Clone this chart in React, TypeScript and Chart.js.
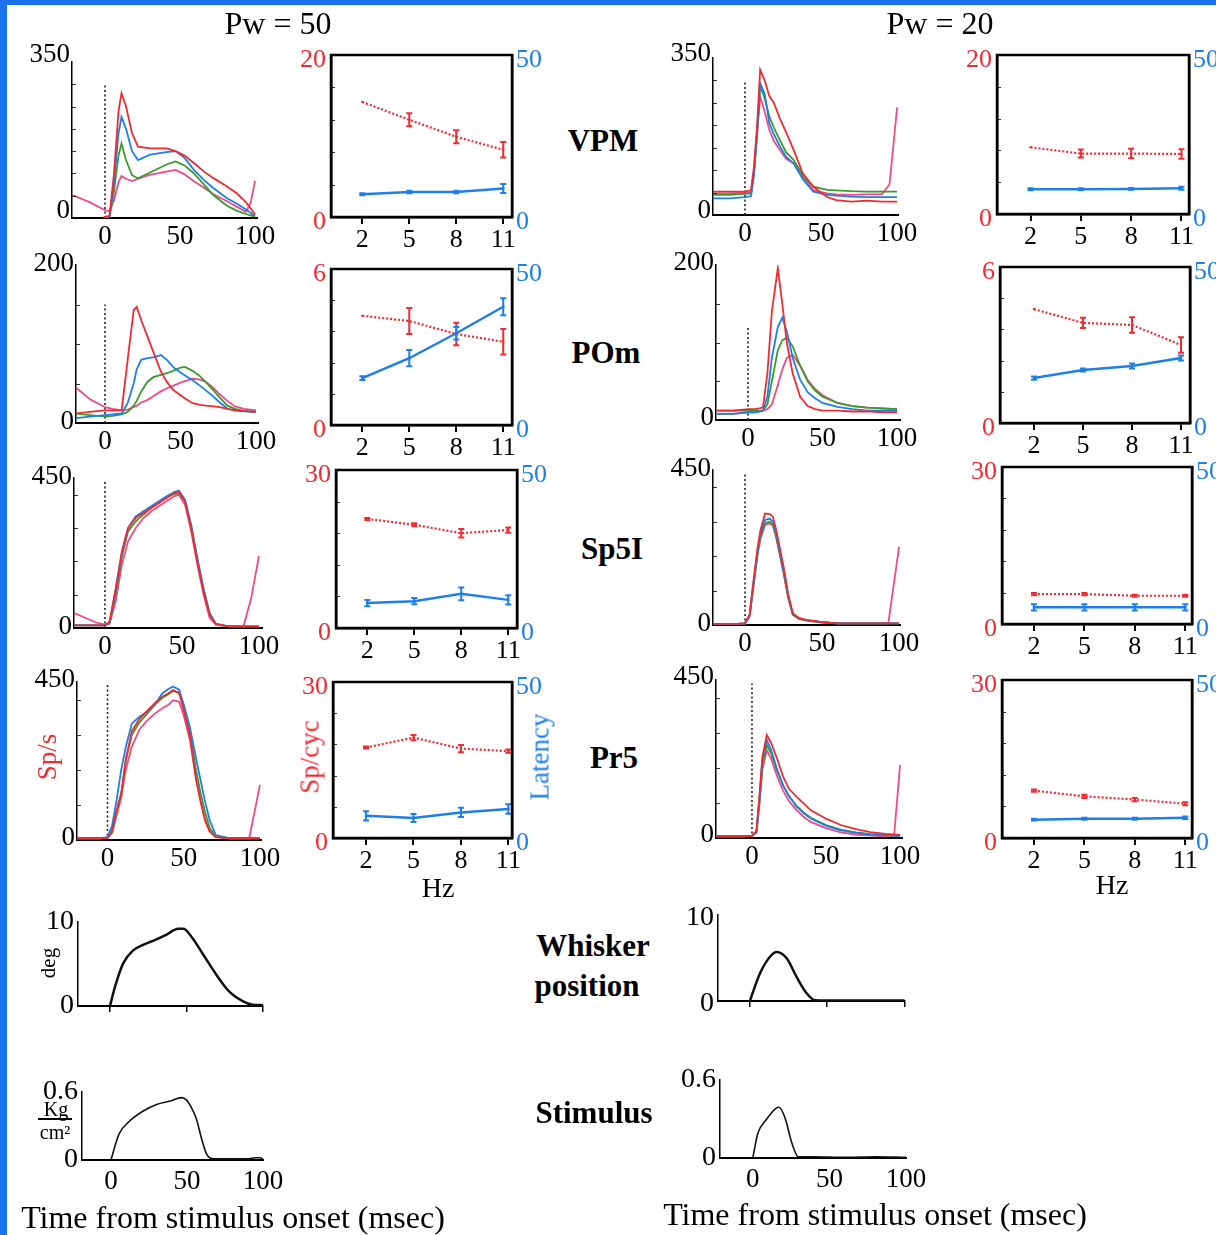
import React, { useEffect, useRef } from 'react';
import { Chart, registerables } from 'chart.js';

Chart.register(...registerables);

const SERIF = '"Liberation Serif", "Times New Roman", Times, serif';
const RED = '#ee2b33';
const BLUE = '#1f7fe8';
const GREEN = '#3a9a2e';
const PINK = '#ee4b86';
const FRAME_BLUE = '#1a72f0';

// ---------------- Frequency panels (Sp/cyc = red, Latency = blue) ----------------
const HZ = [2, 5, 8, 11];

const VPM50_SPC = [14.2, 12.0, 9.9, 8.3];
const VPM50_SPC_ERR = [0, 0.8, 0.8, 0.95];
const VPM50_LAT = [7.0, 7.7, 7.7, 8.8];
const VPM50_LAT_ERR = [0.3, 0.4, 0.4, 1.4];

const POM50_SPC = [4.2, 4.0, 3.5, 3.2];
const POM50_SPC_ERR = [0, 0.5, 0.43, 0.49];
const POM50_LAT = [15.0, 21.4, 29.4, 37.9];
const POM50_LAT_ERR = [0.6, 2.6, 2.0, 2.7];

const SP5I50_SPC = [20.7, 19.6, 18.0, 18.6];
const SP5I50_SPC_ERR = [0.2, 0.3, 0.8, 0.5];
const SP5I50_LAT = [7.9, 8.5, 10.8, 8.9];
const SP5I50_LAT_ERR = [1, 1, 2, 1.5];

const PR550_SPC = [17.4, 19.3, 17.2, 16.7];
const PR550_SPC_ERR = [0.2, 0.5, 0.7, 0.3];
const PR550_LAT = [7.1, 6.4, 8.2, 9.3];
const PR550_LAT_ERR = [1.5, 1.3, 1.5, 1.5];

const VPM20_SPC = [8.4, 7.6, 7.6, 7.55];
const VPM20_SPC_ERR = [0, 0.5, 0.6, 0.6];
const VPM20_LAT = [7.8, 7.8, 7.9, 8.1];
const VPM20_LAT_ERR = [0.3, 0.3, 0.3, 0.5];

const POM20_SPC = [4.38, 3.85, 3.77, 3.0];
const POM20_SPC_ERR = [0, 0.2, 0.3, 0.3];
const POM20_LAT = [14.4, 17.0, 18.3, 20.8];
const POM20_LAT_ERR = [0.5, 0.5, 0.8, 0.8];

const SP5I20_SPC = [5.7, 5.7, 5.4, 5.4];
const SP5I20_SPC_ERR = [0.2, 0.2, 0.2, 0.2];
const SP5I20_LAT = [5.3, 5.3, 5.3, 5.3];
const SP5I20_LAT_ERR = [1, 1, 1, 1];

const PR520_SPC = [9.0, 7.9, 7.3, 6.5];
const PR520_SPC_ERR = [0.2, 0.3, 0.3, 0.3];
const PR520_LAT = [5.8, 6.1, 6.1, 6.4];
const PR520_LAT_ERR = [0.3, 0.3, 0.3, 0.4];

// ---------------- PSTHs (Sp/s vs time from onset, ms) ----------------
const T_VPM50 = [-22, -10, -1, 3, 6, 9, 11, 14, 18, 22, 30, 41, 47, 53, 59, 66, 72, 81, 88, 94, 97, 100];
const VPM50_RED = [null, null, 2, 5, 100, 240, 280, 250, 190, 160, 156, 156, 150, 140, 124, 104, 90, 71, 55, 35, 22, 8];
const VPM50_BLUE = [null, null, 0, 3, 80, 190, 227, 200, 150, 130, 142, 148, 150, 135, 109, 85, 68, 45, 32, 19, 12, 5];
const VPM50_GREEN = [null, null, 0, 3, 60, 140, 167, 130, 96, 89, 102, 120, 127, 118, 101, 75, 52, 28, 16, 9, 6, 3];
const VPM50_PINK = [52, 35, 19, 15, 40, 80, 94, 88, 83, 88, 97, 104, 108, 98, 83, 68, 54, 38, 25, 14, 34, 83];

const T_POM50 = [-20, -10, 0, 5, 11, 15, 19, 21, 24, 28, 32, 37, 41, 45, 50, 53, 58, 63, 67, 72, 76, 81, 86, 92, 100];
const POM50_RED = [12, 14, 16, 16, 16, 80, 143, 147, 130, 110, 90, 65, 52, 42, 35, 31, 25, 23, 22, 21, 20, 18, 16, 15, 14];
const POM50_BLUE = [6, 8, 10, 11, 12, 25, 50, 68, 80, 82, 83, 86, 80, 71, 64, 60, 54, 47, 41, 33, 26, 18, 16, 15, 14];
const POM50_GREEN = [12, 10, 8, 9, 11, 14, 22, 28, 40, 52, 58, 61, 63, 66, 70, 71, 66, 59, 51, 41, 32, 22, 18, 15, 14];
const POM50_PINK = [46, 30, 20, 18, 16, 17, 20, 22, 26, 29, 34, 40, 44, 47, 51, 53, 56, 55, 52, 44, 36, 28, 21, 18, 16];

const T_SP5I50 = [-20, -5, 0, 3, 7, 11, 15, 20, 25, 30, 35, 40, 45, 48, 52, 56, 60, 64, 68, 72, 80, 90, 95, 100];
const SP5I50_RED = [8, 8, 8, 20, 120, 230, 300, 330, 345, 360, 375, 390, 405, 410, 380, 300, 200, 110, 40, 12, 5, 5, 5, 5];
const SP5I50_BLUE = [8, 8, 8, 15, 110, 225, 300, 335, 350, 365, 380, 395, 408, 412, 385, 310, 210, 120, 45, 12, 5, 5, 5, 5];
const SP5I50_GREEN = [8, 8, 8, 15, 100, 215, 290, 320, 340, 360, 375, 392, 402, 405, 380, 305, 205, 115, 42, 12, 5, 5, 5, 5];
const SP5I50_PINK = [45, 15, 10, 12, 80, 190, 260, 300, 330, 350, 365, 380, 395, 400, 370, 290, 190, 100, 30, 10, 5, 5, 90, 216];

const T_PR550 = [-20, -5, 0, 3, 6, 9, 12, 16, 21, 26, 31, 36, 40, 43, 47, 50, 54, 58, 61, 64, 67, 71, 80, 93, 100];
const PR550_RED = [5, 5, 6, 25, 85, 133, 230, 310, 345, 368, 390, 408, 418, 427, 417, 370, 300, 175, 110, 55, 25, 8, 5, 5, 5];
const PR550_BLUE = [5, 5, 8, 40, 114, 200, 265, 332, 351, 365, 385, 418, 430, 437, 428, 385, 322, 235, 171, 110, 57, 14, 5, 5, 5];
const PR550_GREEN = [5, 5, 6, 22, 80, 130, 225, 300, 335, 360, 385, 405, 415, 425, 420, 385, 315, 200, 135, 80, 35, 9, 5, 5, 5];
const PR550_PINK = [5, 5, 6, 20, 70, 120, 200, 266, 315, 340, 360, 375, 385, 398, 394, 355, 285, 180, 114, 60, 24, 8, 5, 5, 157];

const T_VPM20 = [-21, -10, 0, 4, 6, 8, 10, 13, 16, 19, 23, 27, 32, 38, 45, 54, 60, 70, 80, 90, 95, 97, 100];
const VPM20_RED = [52, 52, 52, 55, 110, 200, 324, 300, 265, 250, 215, 185, 145, 93, 63, 40, 33, 30, 32, 30, 30, 30, 30];
const VPM20_BLUE = [37, 37, 40, 42, 90, 180, 294, 270, 205, 180, 153, 130, 115, 80, 52, 45, 43, 41, 40, 40, 40, 40, 40];
const VPM20_GREEN = [45, 45, 47, 48, 100, 190, 287, 260, 220, 195, 167, 140, 123, 88, 63, 56, 55, 53, 52, 52, 52, 52, 52];
const VPM20_PINK = [48, 48, 50, 50, 100, 180, 264, 230, 190, 165, 145, 125, 115, 85, 55, 48, 46, 45, 46, 46, 68, 135, 240];

const T_POM20 = [-21, -10, 0, 5, 10, 13, 16, 20, 23, 26, 30, 35, 40, 45, 50, 60, 70, 80, 90, 100];
const POM20_RED = [12, 12, 14, 14, 16, 60, 140, 196, 150, 100, 60, 30, 18, 14, 12, 12, 11, 11, 10, 10];
const POM20_BLUE = [8, 8, 10, 10, 12, 30, 80, 120, 132, 115, 80, 52, 36, 28, 22, 17, 14, 12, 12, 12];
const POM20_GREEN = [12, 12, 12, 12, 12, 20, 50, 90, 103, 106, 95, 70, 50, 38, 30, 22, 18, 16, 15, 14];
const POM20_PINK = [8, 8, 10, 10, 12, 14, 20, 45, 65, 80, 84, 70, 52, 40, 32, 22, 18, 16, 15, 14];

const T_SP5I20 = [-21, -5, 0, 3, 5, 8, 10, 13, 16, 18, 20, 22, 25, 28, 31, 35, 40, 50, 60, 80, 90, 93, 100];
const SP5I20_RED = [3, 3, 5, 30, 110, 220, 275, 324, 322, 315, 280, 237, 170, 90, 34, 20, 15, 8, 5, 5, 5, 5, 5];
const SP5I20_BLUE = [3, 3, 5, 30, 105, 210, 265, 305, 309, 300, 270, 225, 160, 85, 32, 20, 14, 8, 5, 5, 5, 5, 5];
const SP5I20_GREEN = [3, 3, 5, 28, 100, 205, 258, 296, 300, 292, 262, 218, 155, 80, 30, 18, 13, 8, 5, 5, 5, 5, 5];
const SP5I20_PINK = [3, 3, 5, 25, 95, 200, 250, 290, 295, 288, 258, 215, 150, 78, 30, 18, 13, 8, 5, 5, 5, 5, 227];

const T_PR520 = [-24, -5, 0, 3, 5, 7, 10, 13, 17, 21, 25, 30, 35, 40, 50, 60, 70, 80, 90, 96, 100];
const PR520_RED = [5, 5, 6, 20, 120, 230, 293, 270, 225, 175, 140, 118, 98, 78, 55, 37, 25, 17, 12, 10, 9];
const PR520_BLUE = [5, 5, 6, 18, 110, 220, 279, 250, 195, 150, 120, 90, 70, 55, 35, 22, 15, 10, 8, 6, 6];
const PR520_GREEN = [5, 5, 6, 16, 100, 205, 265, 240, 190, 150, 118, 92, 72, 57, 37, 24, 16, 11, 8, 6, 6];
const PR520_PINK = [5, 5, 6, 15, 95, 195, 250, 225, 175, 135, 105, 80, 60, 45, 28, 16, 10, 7, 5, 8, 208];

// ---------------- Whisker position (deg) & stimulus (Kg/cm2) ----------------
const T_WHISK50 = [0, 3.3, 8.7, 15, 22, 30, 37, 44.6, 48, 53, 61, 69.6, 78, 87, 93, 100];
const WHISK50 = [0, 2.3, 5.1, 6.6, 7.3, 7.9, 8.5, 9.2, 9.2, 8.3, 6.1, 3.7, 1.7, 0.55, 0.15, 0.1];
const T_STIM50 = [0, 5.4, 12, 21, 30, 39, 46.6, 49.6, 53, 56, 60, 63, 67.6, 80, 90, 95, 98, 100];
const STIM50 = [0, 0.23, 0.34, 0.43, 0.49, 0.52, 0.55, 0.53, 0.46, 0.37, 0.17, 0.05, 0.01, 0.01, 0.01, 0.02, 0.02, 0.01];
const T_WHISK20 = [0, 6.5, 13, 17.3, 23.8, 30.2, 36.7, 42, 60, 100];
const WHISK20 = [0, 3.2, 5.15, 5.7, 4.96, 2.8, 0.9, 0.1, 0.05, 0.05];
const T_STIM20 = [0, 3.3, 8.5, 14.9, 17, 21, 25.5, 29.7, 40, 60, 80, 100];
const STIM20 = [0, 0.19, 0.29, 0.38, 0.39, 0.31, 0.115, 0.01, 0.01, 0.005, 0.01, 0.005];

// ---------------- helpers ----------------
const fitY = (w: number) => (s: any) => {
  s.width = w;
  s.paddingTop = 0; s.paddingBottom = 0; s.paddingLeft = 0; s.paddingRight = 0;
};
const fitX = (h: number) => (s: any) => {
  s.height = h;
  s.paddingTop = 0; s.paddingBottom = 0; s.paddingLeft = 0; s.paddingRight = 0;
};
const setTicks = (vals: number[]) => (s: any) => {
  s.ticks = vals.map((v) => ({ value: v }));
};

const innerTicks = {
  id: 'innerTicks',
  afterDraw(chart: any) {
    const s = chart.scales.y;
    const ctx = chart.ctx;
    const left = chart.chartArea.left;
    ctx.save();
    ctx.strokeStyle = '#333';
    ctx.lineWidth = 1;
    s.ticks.forEach((t: any) => {
      if (t.value <= s.min || t.value >= s.max) return;
      const y = Math.round(s.getPixelForValue(t.value)) + 0.5;
      ctx.beginPath();
      ctx.moveTo(left, y);
      ctx.lineTo(left + 4, y);
      ctx.stroke();
    });
    ctx.restore();
  },
};

const frame = {
  id: 'frame',
  afterDraw(chart: any) {
    const a = chart.chartArea;
    const ctx = chart.ctx;
    ctx.save();
    ctx.strokeStyle = '#000';
    ctx.lineWidth = 2.5;
    ctx.strokeRect(a.left, a.top, a.right - a.left, a.bottom - a.top);
    ctx.restore();
  },
};

const errorBars = {
  id: 'errorBars',
  afterDatasetsDraw(chart: any) {
    const ctx = chart.ctx;
    chart.data.datasets.forEach((ds: any) => {
      const errs = ds.errorBars;
      if (!errs) return;
      const xs = chart.scales.x;
      const ys = chart.scales[ds.yAxisID];
      ctx.save();
      ctx.strokeStyle = ds.borderColor;
      ctx.lineWidth = 2;
      ctx.setLineDash([]);
      ds.data.forEach((pt: any, j: number) => {
        const e = errs[j];
        if (!e) return;
        const x = xs.getPixelForValue(pt.x);
        const yt = ys.getPixelForValue(pt.y + e);
        const yb = ys.getPixelForValue(pt.y - e);
        ctx.beginPath();
        ctx.moveTo(x, yt); ctx.lineTo(x, yb);
        ctx.moveTo(x - 3, yt); ctx.lineTo(x + 3, yt);
        ctx.moveTo(x - 3, yb); ctx.lineTo(x + 3, yb);
        ctx.stroke();
      });
      ctx.restore();
    });
  },
};

const baseOpts = {
  responsive: false,
  animation: false,
  devicePixelRatio: 1,
  events: [],
};
const noPlugins = { legend: { display: false }, tooltip: { enabled: false } };
const noGrid = { display: false, drawTicks: false };

type Geom = { l: number; t: number; w: number; h: number };

// ---------------- PSTH panel ----------------
function psth(p: any) {
  const ml = 64, mt = 24, mr = 28, mb = 44;
  const geom: Geom = { l: p.x0 - ml, t: p.y0 - mt, w: p.x1 - p.x0 + ml + mr, h: p.y1 - p.y0 + mt + mb };
  const series = (vals: any[], color: string) => ({
    data: p.times.map((t: number, i: number) => ({ x: t, y: vals[i] })),
    borderColor: color,
    borderWidth: 1.8,
    pointRadius: 0,
    tension: 0,
    spanGaps: false,
    fill: false,
  });
  const yTicks: number[] = [];
  for (let v = 0; v < p.ymax; v += p.ystep) yTicks.push(v);
  yTicks.push(p.ymax);
  const make = () => ({
    type: 'line',
    data: {
      datasets: [
        series(p.red, RED),
        series(p.blue, BLUE),
        series(p.green, GREEN),
        series(p.pink, PINK),
        {
          data: [{ x: 0, y: 0 }, { x: 0, y: p.onsetTop }],
          borderColor: '#222',
          borderWidth: 1.6,
          borderDash: [2, 2.5],
          pointRadius: 0,
        },
      ],
    },
    options: {
      ...baseOpts,
      layout: { padding: { left: 0, top: mt, right: mr, bottom: 0 } },
      plugins: noPlugins,
      scales: {
        x: {
          type: 'linear', min: p.xmin, max: p.xmax,
          border: { display: true, color: '#000', width: 2 },
          grid: noGrid,
          ticks: { color: '#000', font: { family: SERIF, size: 27 }, padding: 3, maxRotation: 0, autoSkip: false },
          afterBuildTicks: setTicks([0, 50, 100]),
          afterFit: fitX(mb),
        },
        y: {
          type: 'linear', min: 0, max: p.ymax,
          border: { display: true, color: '#000', width: 1.5 },
          grid: noGrid,
          ticks: {
            color: '#000', font: { family: SERIF, size: 27 }, padding: 2, labelOffset: p.lo, autoSkip: false,
            callback: (v: number) => (v === 0 || v === p.ymax ? String(v) : ''),
          },
          afterBuildTicks: setTicks(yTicks),
          afterFit: fitY(ml),
        },
      },
    },
    plugins: [innerTicks],
  });
  return { geom, make };
}

// ---------------- Frequency panel ----------------
function hzPanel(p: any) {
  const ml = 44, mt = 24, mr = 46, mb = 44;
  const geom: Geom = { l: p.x0 - ml, t: p.y0 - mt, w: p.x1 - p.x0 + ml + mr, h: p.y1 - p.y0 + mt + mb };
  const make = () => ({
    type: 'line',
    data: {
      datasets: [
        {
          data: HZ.map((h, i) => ({ x: h, y: p.spc[i] })),
          errorBars: p.spcErr,
          yAxisID: 'y',
          borderColor: RED,
          borderWidth: 2.2,
          borderDash: [2, 2],
          pointRadius: 1.5,
          pointStyle: 'rect',
          pointBackgroundColor: RED,
          pointBorderWidth: 0,
          tension: 0,
        },
        {
          data: HZ.map((h, i) => ({ x: h, y: p.lat[i] })),
          errorBars: p.latErr,
          yAxisID: 'y2',
          borderColor: BLUE,
          borderWidth: 2.5,
          pointRadius: 1.8,
          pointStyle: 'rect',
          pointBackgroundColor: BLUE,
          pointBorderWidth: 0,
          tension: 0,
        },
      ],
    },
    options: {
      ...baseOpts,
      layout: { padding: { left: 0, top: mt, right: 0, bottom: 0 } },
      plugins: noPlugins,
      scales: {
        x: {
          type: 'linear', min: p.xmin, max: p.xmax,
          border: { display: true, color: '#000', width: 2.5 },
          grid: { display: true, drawOnChartArea: false, drawTicks: true, tickLength: 7, color: '#000', lineWidth: 2 },
          ticks: { color: '#000', font: { family: SERIF, size: 26 }, padding: 1, maxRotation: 0, autoSkip: false },
          afterBuildTicks: setTicks(HZ),
          afterFit: fitX(mb),
        },
        y: {
          type: 'linear', position: 'left', min: 0, max: p.leftMax,
          border: { display: true, color: '#000', width: 2.5 },
          grid: noGrid,
          ticks: {
            color: RED, font: { family: SERIF, size: 26 }, padding: 5, labelOffset: 5, autoSkip: false,
            callback: (v: number) => (v === 0 || v === p.leftMax ? String(v) : ''),
          },
          afterBuildTicks: setTicks([0, 1, 2, 3, 4, 5].map((i) => (p.leftMax * i) / 5)),
          afterFit: fitY(ml),
        },
        y2: {
          type: 'linear', position: 'right', min: 0, max: 50,
          border: { display: true, color: '#000', width: 2.5 },
          grid: noGrid,
          ticks: { color: BLUE, font: { family: SERIF, size: 26 }, padding: 4, labelOffset: 5, autoSkip: false },
          afterBuildTicks: setTicks([0, 50]),
          afterFit: fitY(mr),
        },
      },
    },
    plugins: [innerTicks, errorBars, frame],
  });
  return { geom, make };
}

// ---------------- Whisker / stimulus panel ----------------
function tracePanel(p: any) {
  const ml = 56, mt = 20, mr = 28, mb = 42;
  const geom: Geom = { l: p.x0 - ml, t: p.y0 - mt, w: p.x1 - p.x0 + ml + mr, h: p.y1 - p.y0 + mt + mb };
  const make = () => ({
    type: 'line',
    data: {
      datasets: [
        {
          data: p.times.map((t: number, i: number) => ({ x: t, y: p.vals[i] })),
          borderColor: '#111',
          borderWidth: p.lw,
          pointRadius: 0,
          cubicInterpolationMode: 'monotone',
        },
      ],
    },
    options: {
      ...baseOpts,
      layout: { padding: { left: 0, top: mt, right: mr, bottom: 0 } },
      plugins: noPlugins,
      scales: {
        x: {
          type: 'linear', min: p.xmin, max: p.xmax,
          border: { display: true, color: '#000', width: 2 },
          grid: p.tickMarks
            ? { display: true, drawOnChartArea: false, drawTicks: true, tickLength: 6, color: '#000', lineWidth: 1.5 }
            : noGrid,
          ticks: {
            display: p.labels,
            color: '#000', font: { family: SERIF, size: 27 }, padding: 6, maxRotation: 0, autoSkip: false,
          },
          afterBuildTicks: setTicks([0, 50, 100]),
          afterFit: fitX(mb),
        },
        y: {
          type: 'linear', min: 0, max: p.ymax,
          border: { display: true, color: '#000', width: 1.5 },
          grid: noGrid,
          ticks: { color: '#000', font: { family: SERIF, size: 28 }, padding: 4, labelOffset: p.lo, autoSkip: false },
          afterBuildTicks: setTicks([0, p.ymax]),
          afterFit: fitY(ml),
        },
      },
    },
  });
  return { geom, make };
}

const PANELS = [
  psth({ x0: 72, y0: 62, x1: 257, y1: 218, xmin: -22, xmax: 101.3, ymax: 350, ystep: 50, onsetTop: 300, lo: -7, times: T_VPM50, red: VPM50_RED, blue: VPM50_BLUE, green: VPM50_GREEN, pink: VPM50_PINK }),
  psth({ x0: 76, y0: 265, x1: 258, y1: 423, xmin: -19.2, xmax: 101.3, ymax: 200, ystep: 50, onsetTop: 150, lo: -1, times: T_POM50, red: POM50_RED, blue: POM50_BLUE, green: POM50_GREEN, pink: POM50_PINK }),
  psth({ x0: 74, y0: 478, x1: 262, y1: 628, xmin: -20.1, xmax: 102, ymax: 450, ystep: 100, onsetTop: 445, lo: -1, times: T_SP5I50, red: SP5I50_RED, blue: SP5I50_BLUE, green: SP5I50_GREEN, pink: SP5I50_PINK }),
  psth({ x0: 77, y0: 682, x1: 261, y1: 840, xmin: -20, xmax: 100.7, ymax: 450, ystep: 100, onsetTop: 445, lo: -2, times: T_PR550, red: PR550_RED, blue: PR550_BLUE, green: PR550_GREEN, pink: PR550_PINK }),
  psth({ x0: 713, y0: 58, x1: 898, y1: 215, xmin: -21, xmax: 100.6, ymax: 350, ystep: 50, onsetTop: 300, lo: -4, times: T_VPM20, red: VPM20_RED, blue: VPM20_BLUE, green: VPM20_GREEN, pink: VPM20_PINK }),
  psth({ x0: 716, y0: 265, x1: 900, y1: 420, xmin: -21.5, xmax: 102, ymax: 200, ystep: 50, onsetTop: 120, lo: -2, times: T_POM20, red: POM20_RED, blue: POM20_BLUE, green: POM20_GREEN, pink: POM20_PINK }),
  psth({ x0: 713, y0: 470, x1: 900, y1: 625, xmin: -20.8, xmax: 100.6, ymax: 450, ystep: 100, onsetTop: 440, lo: -1, times: T_SP5I20, red: SP5I20_RED, blue: SP5I20_BLUE, green: SP5I20_GREEN, pink: SP5I20_PINK }),
  psth({ x0: 716, y0: 680, x1: 902, y1: 838, xmin: -24.3, xmax: 101.3, ymax: 450, ystep: 100, onsetTop: 440, lo: -3, times: T_PR520, red: PR520_RED, blue: PR520_BLUE, green: PR520_GREEN, pink: PR520_PINK }),

  hzPanel({ x0: 331, y0: 55, x1: 512, y1: 217, xmin: 0, xmax: 11.56, leftMax: 20, spc: VPM50_SPC, spcErr: VPM50_SPC_ERR, lat: VPM50_LAT, latErr: VPM50_LAT_ERR }),
  hzPanel({ x0: 331, y0: 269, x1: 512, y1: 425, xmin: 0, xmax: 11.56, leftMax: 6, spc: POM50_SPC, spcErr: POM50_SPC_ERR, lat: POM50_LAT, latErr: POM50_LAT_ERR }),
  hzPanel({ x0: 336, y0: 470, x1: 517, y1: 628, xmin: 0, xmax: 11.56, leftMax: 30, spc: SP5I50_SPC, spcErr: SP5I50_SPC_ERR, lat: SP5I50_LAT, latErr: SP5I50_LAT_ERR }),
  hzPanel({ x0: 333, y0: 682, x1: 512, y1: 838, xmin: -0.09, xmax: 11.23, leftMax: 30, spc: PR550_SPC, spcErr: PR550_SPC_ERR, lat: PR550_LAT, latErr: PR550_LAT_ERR }),
  hzPanel({ x0: 997, y0: 55, x1: 1189, y1: 214, xmin: 0, xmax: 11.45, leftMax: 20, spc: VPM20_SPC, spcErr: VPM20_SPC_ERR, lat: VPM20_LAT, latErr: VPM20_LAT_ERR }),
  hzPanel({ x0: 1000, y0: 267, x1: 1190, y1: 423, xmin: -0.08, xmax: 11.55, leftMax: 6, spc: POM20_SPC, spcErr: POM20_SPC_ERR, lat: POM20_LAT, latErr: POM20_LAT_ERR }),
  hzPanel({ x0: 1002, y0: 467, x1: 1192, y1: 624, xmin: 0.1, xmax: 11.4, leftMax: 30, spc: SP5I20_SPC, spcErr: SP5I20_SPC_ERR, lat: SP5I20_LAT, latErr: SP5I20_LAT_ERR }),
  hzPanel({ x0: 1002, y0: 680, x1: 1192, y1: 838, xmin: 0.1, xmax: 11.4, leftMax: 30, spc: PR520_SPC, spcErr: PR520_SPC_ERR, lat: PR520_LAT, latErr: PR520_LAT_ERR }),

  tracePanel({ x0: 78, y0: 922, x1: 263, y1: 1006, xmin: -20.9, xmax: 100, ymax: 10, lw: 2.5, lo: 0, labels: false, tickMarks: true, times: T_WHISK50, vals: WHISK50 }),
  tracePanel({ x0: 82, y0: 1092, x1: 263, y1: 1160, xmin: -19, xmax: 100, ymax: 0.6, lw: 1.6, lo: 0, labels: true, tickMarks: false, times: T_STIM50, vals: STIM50 }),
  tracePanel({ x0: 718, y0: 915, x1: 905, y1: 1001, xmin: -20.6, xmax: 100.3, ymax: 10, lw: 2.5, lo: 3, labels: false, tickMarks: true, times: T_WHISK20, vals: WHISK20 }),
  tracePanel({ x0: 720, y0: 1080, x1: 906, y1: 1158, xmin: -21.4, xmax: 100, ymax: 0.6, lw: 1.6, lo: 0, labels: true, tickMarks: false, times: T_STIM20, vals: STIM20 }),
];

const TEXTS = [
  { s: 'Pw = 50', x: 278, y: 23, size: 32 },
  { s: 'Pw = 20', x: 940, y: 23, size: 32 },
  { s: 'VPM', x: 603, y: 140, size: 31, bold: true },
  { s: 'POm', x: 606, y: 352, size: 31, bold: true },
  { s: 'Sp5I', x: 612, y: 548, size: 31, bold: true },
  { s: 'Pr5', x: 614, y: 757, size: 31, bold: true },
  { s: 'Whisker', x: 593, y: 945, size: 31, bold: true },
  { s: 'position', x: 587, y: 985, size: 31, bold: true },
  { s: 'Stimulus', x: 594, y: 1112, size: 31, bold: true },
  { s: 'Hz', x: 438, y: 888, size: 28 },
  { s: 'Hz', x: 1112, y: 885, size: 28 },
  { s: 'Time from stimulus onset (msec)', x: 233, y: 1217, size: 32 },
  { s: 'Time from stimulus onset (msec)', x: 875, y: 1214, size: 32 },
  { s: 'Sp/s', x: 47, y: 757, size: 27, color: RED, rot: true },
  { s: 'Sp/cyc', x: 310, y: 757, size: 27, color: RED, rot: true },
  { s: 'Latency', x: 540, y: 757, size: 27, color: BLUE, rot: true },
  { s: 'deg', x: 48, y: 963, size: 21, rot: true },
  { s: 'Kg', x: 56, y: 1109, size: 20 },
  { s: 'cm²', x: 55, y: 1132, size: 20 },
];

function ChartCanvas({ geom, make }: { geom: Geom; make: () => any }) {
  const ref = useRef<HTMLCanvasElement>(null);
  useEffect(() => {
    const chart = new Chart(ref.current as HTMLCanvasElement, make());
    return () => chart.destroy();
  }, []);
  return (
    <canvas
      ref={ref}
      width={geom.w}
      height={geom.h}
      style={{ position: 'absolute', left: geom.l, top: geom.t, width: geom.w, height: geom.h }}
    />
  );
}

export default function App() {
  return (
    <div
      style={{
        position: 'absolute', left: 0, top: 0, width: 1216, height: 1235,
        overflow: 'hidden', background: '#fff', fontFamily: SERIF,
      }}
    >
      <div style={{ position: 'absolute', left: 0, top: 0, width: 7, height: 1235, background: FRAME_BLUE }} />
      <div style={{ position: 'absolute', left: 0, top: 0, width: 1216, height: 5, background: FRAME_BLUE }} />
      {PANELS.map((p, i) => (
        <ChartCanvas key={i} geom={p.geom} make={p.make} />
      ))}
      {TEXTS.map((t: any, i) => (
        <div
          key={'t' + i}
          style={{
            position: 'absolute', left: t.x, top: t.y,
            transform: 'translate(-50%, -50%)' + (t.rot ? ' rotate(-90deg)' : ''),
            whiteSpace: 'nowrap', fontSize: t.size, lineHeight: 1,
            fontWeight: t.bold ? 700 : 400, color: t.color || '#000', fontFamily: SERIF,
          }}
        >
          {t.s}
        </div>
      ))}
      <div style={{ position: 'absolute', left: 38, top: 1118, width: 34, height: 1.5, background: '#000' }} />
    </div>
  );
}
